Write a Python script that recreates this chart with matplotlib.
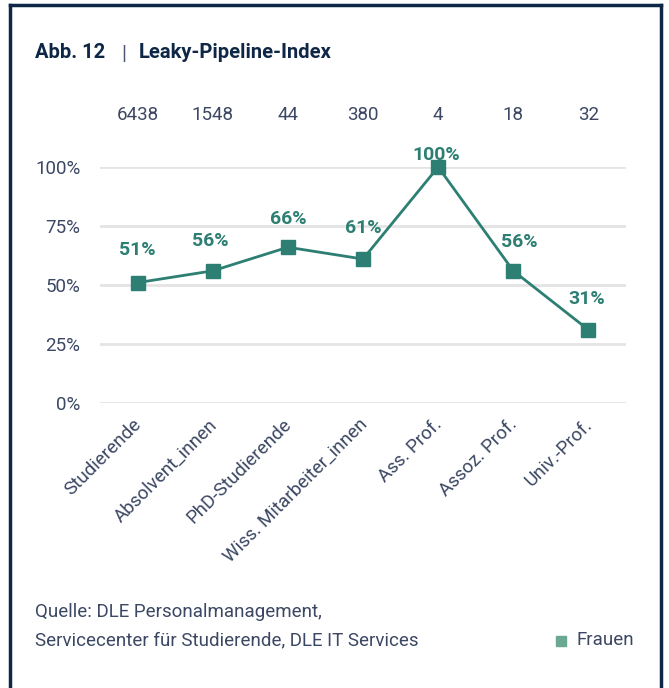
import matplotlib
matplotlib.use("Agg")
import matplotlib.pyplot as plt
from matplotlib.lines import Line2D
from matplotlib.patches import Rectangle
import matplotlib.transforms as mtransforms

categories = ["Studierende", "Absolvent_innen", "PhD-Studierende",
              "Wiss. Mitarbeiter_innen", "Ass. Prof.", "Assoz. Prof.", "Univ.-Prof."]
frauen_pct = [51, 56, 66, 61, 100, 56, 31]
counts = ["6438", "1548", "44", "380", "4", "18", "32"]
yticks = [0, 25, 50, 75, 100]
ytick_labels = ["0%", "25%", "50%", "75%", "100%"]

FONT = ["Roboto", "DejaVu Sans"]
plt.rcParams["font.family"] = FONT

navy = "#0f2746"
txt = "#3b4763"
teal = "#2c7f72"
legend_teal = "#6aa891"

W, H = 669, 688
fig = plt.figure(figsize=(W / 100, H / 100), dpi=100)

# frame
fig.add_artist(Line2D([10 / W, 10 / W], [0, 1 - 5 / H], color=navy, lw=2.5, transform=fig.transFigure))
fig.add_artist(Line2D([661 / W, 661 / W], [0, 1 - 5 / H], color=navy, lw=2.5, transform=fig.transFigure))
fig.add_artist(Line2D([10 / W, 661 / W], [1 - 5 / H, 1 - 5 / H], color=navy, lw=2.5, transform=fig.transFigure))

# title
fig.text(35 / W, 1 - 53 / H, "Abb. 12", fontsize=14.5, fontweight="bold",
         color=navy, ha="left", va="center")
fig.text(124 / W, 1 - 54 / H, "|", fontsize=15, fontweight="normal",
         color="#4a5672", ha="center", va="center")
fig.text(139 / W, 1 - 53 / H, "Leaky-Pipeline-Index", fontsize=14.5, fontweight="bold",
         color=navy, ha="left", va="center")

left, right = 100 / W, 626 / W
bottom, top = 1 - 403 / H, 1 - 167 / H
ax = fig.add_axes([left, bottom, right - left, top - bottom])
x = list(range(len(categories)))
ax.set_xlim(-0.5, len(categories) - 0.5)
ax.set_ylim(0, 100)
for s in ax.spines.values():
    s.set_visible(False)
ax.set_yticks(yticks)
ax.set_yticklabels(ytick_labels)
ax.yaxis.grid(True, color="#e4e4e4", lw=2)
ax.set_axisbelow(True)
ax.tick_params(axis="y", length=0, pad=14, labelsize=13.5, labelcolor=txt)
ax.tick_params(axis="x", length=0, pad=9, labelsize=13.5, labelcolor=txt)
ax.set_xticks(x)
ax.set_xticklabels(categories, rotation=45, ha="right", va="top", rotation_mode="anchor")
for lab in ax.get_xticklabels():
    lab.set_transform(lab.get_transform() + mtransforms.ScaledTranslation(-5 / 100, 0, fig.dpi_scale_trans))

ax.plot(x, frauen_pct, color=teal, lw=2, marker="s", markersize=10, clip_on=False, zorder=3)

label_dy = [33, 30, 28, 31, 12, 29, 31]
label_dx = [0, -2, 0, 0, -2, 6, -2]
for xi, v, dx, dy in zip(x, frauen_pct, label_dx, label_dy):
    ax.annotate(f"{v}%", (xi, v), xytext=(dx * 0.72, dy * 0.72), textcoords="offset points",
                ha="center", va="center", color=teal, fontsize=14, fontweight="bold", zorder=4)

trans = mtransforms.blended_transform_factory(ax.transData, fig.transFigure)
for xi, c in zip(x, counts):
    ax.text(xi, 1 - 115 / H, c, transform=trans, ha="center", va="center", fontsize=13.5, color=txt)

fig.text(35 / W, 1 - 612 / H, "Quelle: DLE Personalmanagement,", fontsize=13.5, color=txt, ha="left", va="center")
fig.text(35 / W, 1 - 640 / H, "Servicecenter für Studierende, DLE IT Services", fontsize=13.5, color=txt,
         ha="left", va="center")

fig.add_artist(Rectangle((556 / W, 1 - 646 / H), 10 / W, 10 / H, color=legend_teal, transform=fig.transFigure))
fig.text(576 / W, 1 - 640 / H, "Frauen", fontsize=13.5, color=txt, ha="left", va="center")

fig.savefig("out.png", dpi=100)
